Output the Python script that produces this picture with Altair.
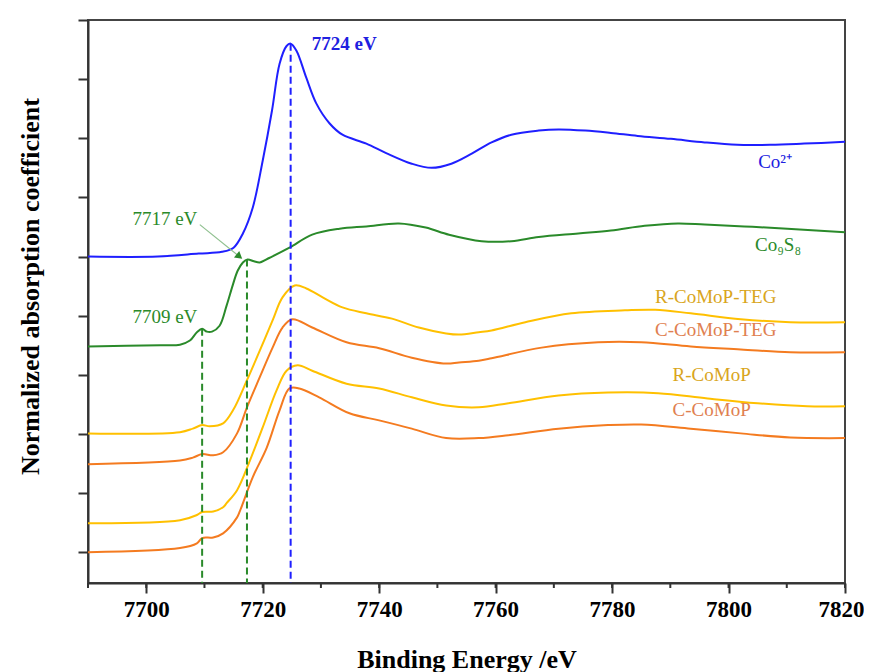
import altair as alt
import pandas as pd

# ---------------- data ----------------
co2_x = [7690, 7702, 7709, 7713, 7715, 7716.6, 7718.3, 7720, 7721.6, 7722.9, 7724.1, 7724.8,
         7725.8, 7727.5, 7729.2, 7731.5, 7733.7, 7737.8, 7741.2, 7745.6, 7749, 7752.4, 7755.9,
         7759.3, 7762.7, 7767.4, 7770.8, 7775.4, 7779.8, 7784.4, 7790.1, 7795.9, 7801.5, 7807.2,
         7813, 7820]
co2_y = [5.0, 5.0, 5.05, 5.08, 5.15, 5.39, 5.83, 6.62, 7.47, 8.26, 8.56, 8.60,
         8.48, 8.02, 7.59, 7.25, 7.06, 6.91, 6.75, 6.57, 6.50, 6.57, 6.74,
         6.93, 7.06, 7.13, 7.15, 7.13, 7.09, 7.04, 6.99, 6.93, 6.89, 6.89,
         6.91, 6.94]

co9s8_x = [7690, 7702.4, 7705.8, 7707.5, 7708.7, 7709.6, 7710.4, 7711.3, 7712.6, 7713.8, 7714.9,
           7715.7, 7716.6, 7717.4, 7718.5, 7719.5, 7721.2, 7724.6, 7728.5, 7733.2, 7737.8, 7743.4,
           7748.0, 7752.0, 7757.6, 7762.7, 7767.4, 7774.2, 7779.8, 7785.6, 7791.3, 7795.9, 7802.7,
           7810.1, 7820]
co9s8_y = [3.48, 3.50, 3.51, 3.58, 3.72, 3.78, 3.73, 3.73, 3.83, 4.17, 4.53,
           4.76, 4.90, 4.95, 4.92, 4.90, 4.98, 5.15, 5.37, 5.47, 5.51, 5.56,
           5.49, 5.37, 5.26, 5.26, 5.33, 5.39, 5.44, 5.52, 5.56, 5.54, 5.51,
           5.47, 5.41]

rteg_x = [7690, 7705.8, 7708.0, 7709.6, 7710.9, 7713.2, 7714.9, 7717.3, 7719.5, 7721.7, 7723.4,
          7725.5, 7727.5, 7730.3, 7733.7, 7737.8, 7742.2, 7746.8, 7751.5, 7753.7, 7757.1, 7759.3,
          7765.1, 7773.0, 7782.2, 7787.4, 7793.5, 7802.1, 7810.6, 7820]
rteg_y = [2.01, 2.03, 2.09, 2.15, 2.13, 2.18, 2.40, 2.91, 3.41, 3.92, 4.31,
          4.51, 4.46, 4.31, 4.14, 4.04, 3.95, 3.80, 3.70, 3.68, 3.72, 3.75,
          3.89, 4.04, 4.09, 4.10, 4.04, 3.94, 3.89, 3.89]

cteg_x = [7690, 7705.8, 7708.0, 7709.6, 7711.5, 7713.2, 7715.6, 7717.3, 7719.5, 7721.7, 7723.4,
          7725.1, 7728.5, 7734.4, 7740.0, 7745.6, 7751.5, 7753.7, 7757.1, 7759.3, 7767.9, 7777.6,
          7785.0, 7793.5, 7802.1, 7810.6, 7820]
cteg_y = [1.49, 1.55, 1.60, 1.66, 1.64, 1.69, 2.01, 2.45, 2.96, 3.46, 3.80,
          3.94, 3.80, 3.55, 3.45, 3.29, 3.19, 3.21, 3.24, 3.28, 3.46, 3.55,
          3.55, 3.48, 3.43, 3.38, 3.38]

r_x = [7690, 7705.8, 7708.7, 7709.6, 7711.5, 7713.2, 7713.8, 7715.6, 7717.8, 7720.0, 7722.4,
       7724.1, 7726.0, 7728.5, 7734.4, 7740.0, 7745.6, 7751.5, 7757.1, 7762.2, 7770.8, 7779.3,
       7787.9, 7796.4, 7805.0, 7813.5, 7820]
r_y = [0.49, 0.54, 0.63, 0.68, 0.69, 0.76, 0.83, 1.05, 1.55, 2.11, 2.74,
       3.07, 3.16, 3.07, 2.85, 2.77, 2.62, 2.48, 2.45, 2.52, 2.65, 2.70,
       2.69, 2.60, 2.52, 2.47, 2.47]

c_x = [7690, 7705.8, 7708.7, 7709.6, 7711.5, 7713.2, 7715.6, 7716.1, 7718.3, 7720.7, 7722.9,
       7724.6, 7726.3, 7729.7, 7734.9, 7740.0, 7745.6, 7751.5, 7757.1, 7762.2, 7770.8, 7779.3,
       7785.0, 7793.5, 7802.1, 7810.6, 7820]
c_y = [0.0, 0.07, 0.15, 0.24, 0.25, 0.32, 0.59, 0.70, 1.27, 1.77, 2.40,
       2.77, 2.77, 2.62, 2.35, 2.23, 2.09, 1.93, 1.93, 1.98, 2.09, 2.15,
       2.16, 2.09, 2.01, 1.94, 1.93]

series_names = ["Co2+", "Co9S8", "R-CoMoP-TEG", "C-CoMoP-TEG", "R-CoMoP", "C-CoMoP"]
series_colors = ["#1f1fff", "#2a8a2a", "#FFC000", "#F47B20", "#FFC000", "#F47B20"]

# dashed marker lines (x position, top of line)
vline_x = [7709.6, 7717.3, 7724.8]
vline_top = [3.78, 4.95, 8.60]
vline_color = ["#2a8a2a", "#2a8a2a", "#1f1fff"]

# labels
label_text = ["7724 eV", "7717 eV", "7709 eV", "Co²⁺", "Co₉S₈",
              "R-CoMoP-TEG", "C-CoMoP-TEG", "R-CoMoP", "C-CoMoP"]
label_x = [7734.0, 7703.2, 7703.2, 7808.0, 7808.5, 7797.8, 7797.8, 7797.1, 7797.1]
label_y = [8.60, 5.63, 3.97, 6.60, 5.20, 4.31, 3.75, 2.99, 2.40]
label_color = ["#2020e0", "#2a8a2a", "#2a8a2a", "#2020e0", "#2a8a2a",
               "#D9A520", "#E08050", "#D9A520", "#E08050"]
label_weight = ["bold", "normal", "normal", "normal", "normal",
                "normal", "normal", "normal", "normal"]

# arrow pointing to the 7717 eV feature
arrow_x = [7709.2, 7716.0]
arrow_y = [5.54, 5.00]

X_DOMAIN = [7690, 7820]
Y_DOMAIN = [-0.52, 9]
x_major = list(range(7700, 7821, 20))
x_minor = list(range(7690, 7821, 10))
y_ticks = list(range(0, 10))

# ---------------- tables ----------------
all_series = [co2_x, co9s8_x, rteg_x, cteg_x, r_x, c_x]
all_vals = [co2_y, co9s8_y, rteg_y, cteg_y, r_y, c_y]
rows = []
for name, xs_, ys_ in zip(series_names, all_series, all_vals):
    for i, (a, b) in enumerate(zip(xs_, ys_)):
        rows.append({"series": name, "x": a, "y": b, "order": i})
lines_df = pd.DataFrame(rows)

vline_df = pd.DataFrame({"x": vline_x, "y": vline_top, "y2": [Y_DOMAIN[0]] * 3, "color": vline_color})
label_df = pd.DataFrame({"text": label_text, "x": label_x, "y": label_y,
                         "color": label_color, "weight": label_weight})
arrow_df = pd.DataFrame({"x": arrow_x, "y": arrow_y, "order": [0, 1]})
head_df = pd.DataFrame({"x": [arrow_x[1]], "y": [arrow_y[1]]})
minor_df = pd.DataFrame({"x": x_minor})

FONT = "Liberation Serif"
LABEL_FONT = "Times New Roman, Liberation Serif, serif"

xscale = alt.Scale(domain=X_DOMAIN, nice=False, zero=False)
yscale = alt.Scale(domain=Y_DOMAIN, nice=False, zero=False)

common_axis = dict(
    grid=False, domainColor="#333", domainWidth=2, tickColor="#333", tickWidth=2,
    labelFont=LABEL_FONT, labelFontSize=23, labelFontWeight="bold", labelColor="black",
    titleFont=FONT, titleFontSize=26, titleFontWeight="bold", titleColor="black",
)

x_axis = alt.Axis(
    values=x_major, format="d", tickSize=10,
    title="Binding Energy /eV", titleX=378.5, titleY=76, titleBaseline="middle",
    labelPadding=5, labelFlush=True, labelFlushOffset=19, labelOverlap=False,
    **common_axis,
)
y_axis = alt.Axis(
    values=y_ticks, labels=False, tickSize=10,
    title="Normalized absorption coefficient",
    titleAngle=270, titleX=-58, titleY=266, titleBaseline="middle", titleAlign="center",
    **common_axis,
)

X = alt.X("x:Q", scale=xscale, axis=x_axis)
Y = alt.Y("y:Q", scale=yscale, axis=y_axis)

lines = alt.Chart(lines_df).mark_line(strokeWidth=2, interpolate="catmull-rom").encode(
    x=X, y=Y,
    color=alt.Color("series:N", scale=alt.Scale(domain=series_names, range=series_colors), legend=None),
    detail="series:N",
    order="order:Q",
)

# minor ticks below the x axis (5 px long, just outside the plot)
minor = alt.Chart(minor_df).mark_rule(color="#333", strokeWidth=2).encode(
    x=X, y=alt.value(563), y2=alt.value(568)
)

vlines = alt.Chart(vline_df).mark_rule(strokeDash=[7, 4], strokeWidth=2).encode(
    x=X, y=Y, y2="y2:Q", color=alt.Color("color:N", scale=None)
)

arrow = alt.Chart(arrow_df).mark_line(color="#8fc08f", strokeWidth=1.2).encode(
    x=X, y=Y, order="order:Q"
)
head = alt.Chart(head_df).mark_point(shape="triangle-right", filled=True, color="#2a8a2a",
                                     size=70, angle=39, opacity=1).encode(x=X, y=Y)

labels_bold = alt.Chart(label_df).transform_filter("datum.weight == 'bold'").mark_text(
    font=FONT, fontSize=19, fontWeight="bold", align="center", baseline="middle"
).encode(x=X, y=Y, text="text:N", color=alt.Color("color:N", scale=None))
labels_norm = alt.Chart(label_df).transform_filter("datum.weight == 'normal'").mark_text(
    font=FONT, fontSize=19, align="center", baseline="middle"
).encode(x=X, y=Y, text="text:N", color=alt.Color("color:N", scale=None))

chart = alt.layer(lines, minor, vlines, arrow, head, labels_bold, labels_norm).properties(
    width=757, height=563,
    autosize=alt.AutoSizeParams(type="none"),
    padding={"left": 80, "top": 12, "right": 19, "bottom": 100},
).configure_view(
    stroke="#444", strokeWidth=2
)

chart.save("out.html", embed_options={"renderer": "svg", "actions": False})
